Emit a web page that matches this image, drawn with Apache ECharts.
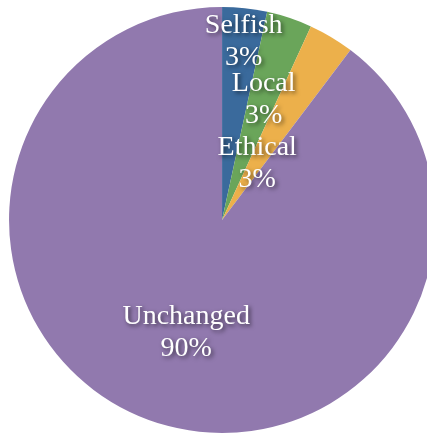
<!DOCTYPE html>
<html><head><meta charset="utf-8">
<script src="https://cdn.jsdelivr.net/npm/echarts@6/dist/echarts.min.js"></script>
<style>html,body{margin:0;padding:0;background:#fff}#c{width:427px;height:433px}</style>
</head><body><div id="c"></div>
<script>
const categories = ['Selfish', 'Local', 'Ethical', 'Unchanged'];
const values = [3.4, 3.45, 3.45, 89.7];
const colors = ['#3a6a9c', '#6aa55a', '#ecb04b', '#9179ae'];
const labelOffsets = [[10, -69], [7, -16], [-21, 38], [-1, 9]];

const chart = echarts.init(document.getElementById('c'), null, {renderer: 'canvas'});
chart.setOption({
  animation: false,
  backgroundColor: '#fff',
  series: [{
    type: 'pie',
    center: ['52%', '50.8%'],
    radius: 213,
    startAngle: 90,
    clockwise: true,
    avoidLabelOverlap: false,
    labelLayout: {hideOverlap: false},
    itemStyle: {borderWidth: 0},
    label: {
      show: true,
      position: 'inside',
      fontFamily: 'Liberation Serif',
      fontSize: 28,
      lineHeight: 32,
      color: '#fff',
      textShadowColor: 'rgba(0,0,0,0.6)',
      textShadowBlur: 4,
      textShadowOffsetX: 2,
      textShadowOffsetY: 2,
      formatter: p => p.name + '\n' + Math.round(p.percent) + '%'
    },
    labelLine: {show: false},
    emphasis: {disabled: true},
    data: categories.map((n, i) => ({
      name: n, value: values[i],
      itemStyle: {color: colors[i]},
      label: {offset: labelOffsets[i]}
    }))
  }]
});
</script></body></html>
